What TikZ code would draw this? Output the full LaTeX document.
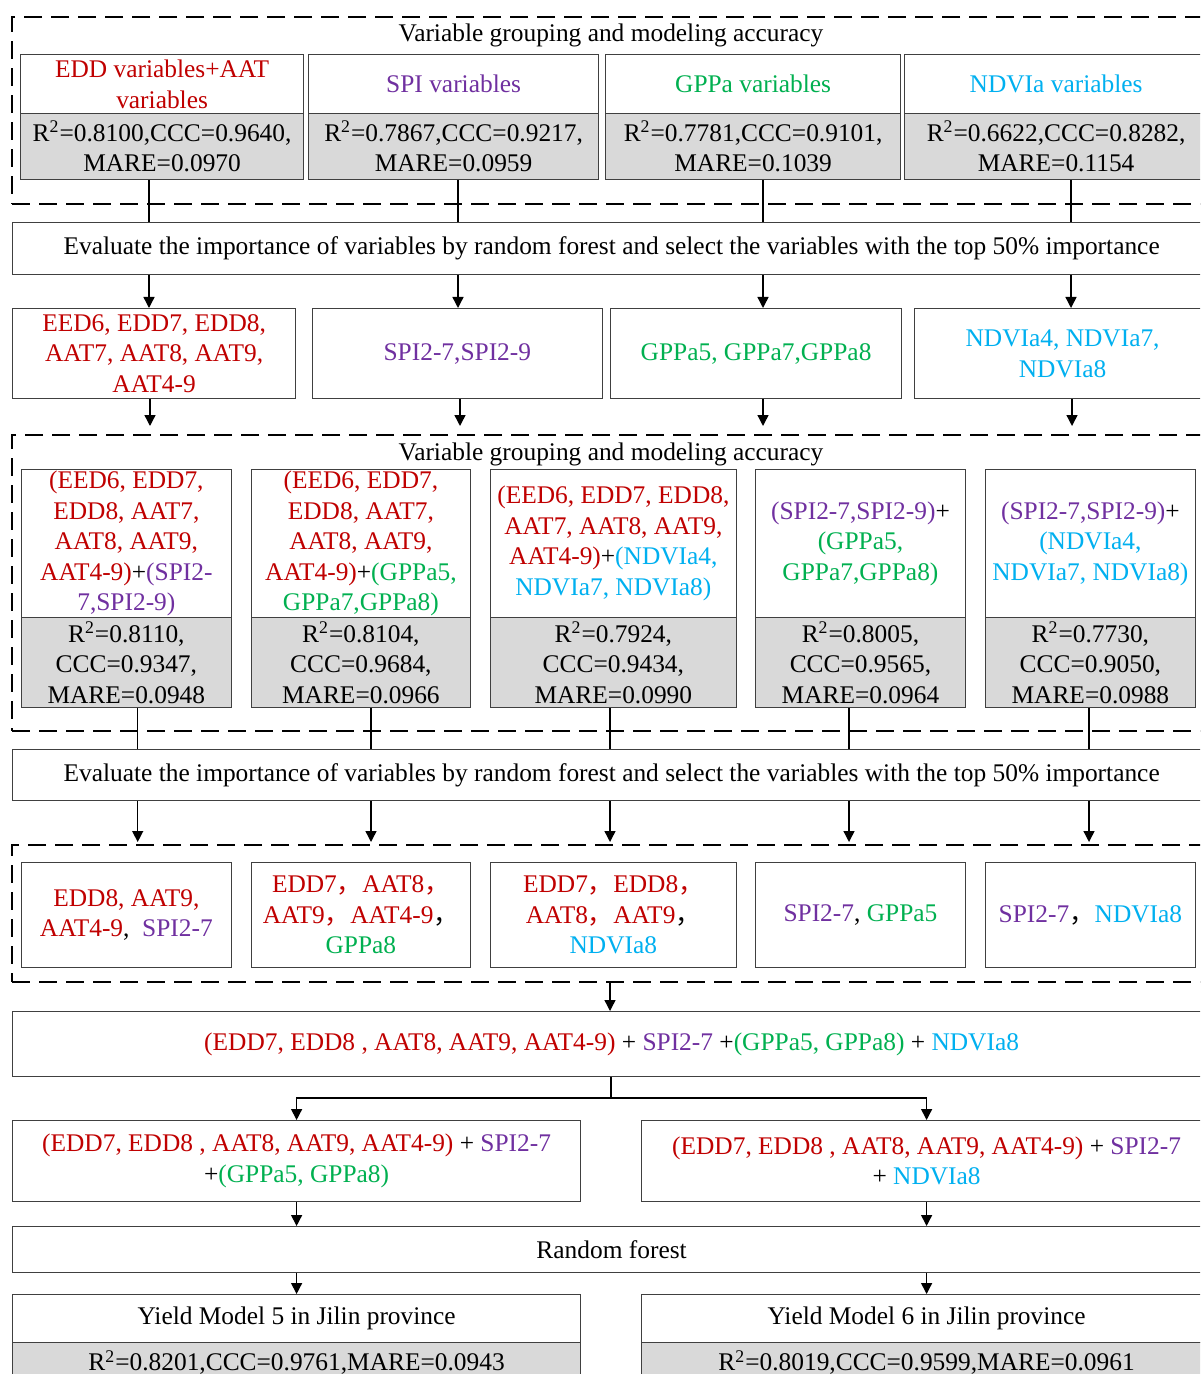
\documentclass[tikz,border=0pt]{standalone}
\usepackage{fontspec}
\setmainfont{Liberation Serif}
\newfontfamily\cjk{Noto Sans CJK SC}
\usetikzlibrary{arrows.meta}
\definecolor{cred}{HTML}{C00000}
\definecolor{cpur}{HTML}{7030A0}
\definecolor{cgrn}{HTML}{00B050}
\definecolor{ccyn}{HTML}{00B0F0}
\definecolor{cgray}{HTML}{D9D9D9}
\definecolor{cedge}{HTML}{404040}
\newcommand{\Red}[1]{\textcolor{cred}{#1}}
\newcommand{\Pur}[1]{\textcolor{cpur}{#1}}
\newcommand{\Grn}[1]{\textcolor{cgrn}{#1}}
\newcommand{\Cyn}[1]{\textcolor{ccyn}{#1}}
\newcommand{\fc}{{\cjk ，}}
\newcommand{\Rsq}{R\textsuperscript{2}}
\begin{document}
\begin{tikzpicture}[x=0.5pt,y=-0.5pt,
  font=\fontsize{12.7}{15.25}\selectfont,
  box/.style={draw=cedge, line width=0.6pt, fill=white, inner sep=0pt, align=center, anchor=north west},
  gbox/.style={box, fill=cgray},
  dbox/.style={draw=black, line width=1.2pt, dash pattern=on 9pt off 4.5pt, inner sep=0pt, anchor=north west},
  sz/.style 2 args={minimum width=#1*0.5pt, minimum height=#2*0.5pt},
  con/.style={line width=0.7pt, draw=black},
  arr/.style={con, -{Triangle[length=5.5pt,width=5.5pt]}},
  ttl/.style={inner sep=0pt}]
\useasboundingbox (0,0) rectangle (1200,1374);
\clip (0,0) rectangle (1200,1374);

% ---------- group 1 ----------
\node[dbox, sz={1204}{187}] (g1) at (11,16) {};
\node[ttl] (t1) at (611,35) {Variable grouping and modeling accuracy};
\node[box, sz={283}{59}] (h1) at (20,54) {\Red{EDD variables+AAT}\\\Red{variables}};
\node[gbox, sz={283}{66}] (s1) at (20,113) {\Rsq=0.8100,CCC=0.9640,\\MARE=0.0970};
\node[box, sz={290}{59}] (h2) at (308,54) {\Pur{SPI variables}};
\node[gbox, sz={290}{66}] (s2) at (308,113) {\Rsq=0.7867,CCC=0.9217,\\MARE=0.0959};
\node[box, sz={295}{59}] (h3) at (605,54) {\Grn{GPPa variables}};
\node[gbox, sz={295}{66}] (s3) at (605,113) {\Rsq=0.7781,CCC=0.9101,\\MARE=0.1039};
\node[box, sz={304}{59}] (h4) at (903.5,54) {\Cyn{NDVIa variables}};
\node[gbox, sz={304}{66}] (s4) at (903.5,113) {\Rsq=0.6622,CCC=0.8282,\\MARE=0.1154};

\node[box, sz={1198}{52}] (ev1) at (12,222) {Evaluate the importance of variables by random forest and select the variables with the top 50\% importance};

\coordinate (a1) at (149,0);
\coordinate (a2) at (458,0);
\coordinate (a3) at (763,0);
\coordinate (a4) at (1071,0);
\foreach \i in {1,...,4}{
  \draw[con] (s\i.south -| a\i) -- (ev1.north -| a\i);
}

% ---------- row 2 ----------
\node[box, sz={283}{90}] (r1) at (12,308) {\Red{EED6, EDD7, EDD8,}\\\Red{AAT7, AAT8, AAT9,}\\\Red{AAT4-9}};
\node[box, sz={290.5}{90}] (r2) at (311.5,308) {\Pur{SPI2-7,SPI2-9}};
\node[box, sz={291}{90}] (r3) at (610,308) {\Grn{GPPa5, GPPa7,GPPa8}};
\node[box, sz={296}{90}] (r4) at (914,308) {\Cyn{NDVIa4, NDVIa7,}\\\Cyn{NDVIa8}};
\foreach \i in {1,...,4}{
  \draw[arr] (ev1.south -| a\i) -- (r\i.north -| a\i);
}
\coordinate (b1) at (150,426);
\coordinate (b2) at (460,426);
\coordinate (b3) at (763,426);
\coordinate (b4) at (1072,426);
\foreach \i in {1,...,4}{
  \draw[arr] (r\i.south -| b\i) -- (b\i);
}

% ---------- group 2 ----------
\node[dbox, sz={1204}{296}] (g2) at (11,434) {};
\node[ttl] (t2) at (611,454) {Variable grouping and modeling accuracy};
\node[box, sz={210.5}{148}] (w1) at (20.5,469) {\Red{(EED6, EDD7,}\\\Red{EDD8, AAT7,}\\\Red{AAT8, AAT9,}\\\Red{AAT4-9)}+\Pur{(SPI2-}\\\Pur{7,SPI2-9)}};
\node[gbox, sz={210.5}{90}] (q1) at (20.5,617) {\Rsq=0.8110,\\CCC=0.9347,\\MARE=0.0948};
\node[box, sz={219.4}{148}] (w2) at (250.6,469) {\Red{(EED6, EDD7,}\\\Red{EDD8, AAT7,}\\\Red{AAT8, AAT9,}\\\Red{AAT4-9)}+\Grn{(GPPa5,}\\\Grn{GPPa7,GPPa8)}};
\node[gbox, sz={219.4}{90}] (q2) at (250.6,617) {\Rsq=0.8104,\\CCC=0.9684,\\MARE=0.0966};
\node[box, sz={245.5}{148}] (w3) at (490,469) {\Red{(EED6, EDD7, EDD8,}\\\Red{AAT7, AAT8, AAT9,}\\\Red{AAT4-9)}+\Cyn{(NDVIa4,}\\\Cyn{NDVIa7, NDVIa8)}};
\node[gbox, sz={245.5}{90}] (q3) at (490,617) {\Rsq=0.7924,\\CCC=0.9434,\\MARE=0.0990};
\node[box, sz={209.7}{148}] (w4) at (755,469) {\Pur{(SPI2-7,SPI2-9)}+\\\Grn{(GPPa5,}\\\Grn{GPPa7,GPPa8)}};
\node[gbox, sz={209.7}{90}] (q4) at (755,617) {\Rsq=0.8005,\\CCC=0.9565,\\MARE=0.0964};
\node[box, sz={210.4}{148}] (w5) at (984.6,469) {\Pur{(SPI2-7,SPI2-9)}+\\\Cyn{(NDVIa4,}\\\Cyn{NDVIa7, NDVIa8)}};
\node[gbox, sz={210.4}{90}] (q5) at (984.6,617) {\Rsq=0.7730,\\CCC=0.9050,\\MARE=0.0988};

\node[box, sz={1198}{51}] (ev2) at (12,749) {Evaluate the importance of variables by random forest and select the variables with the top 50\% importance};

\coordinate (c1) at (137.7,842);
\coordinate (c2) at (371,842);
\coordinate (c3) at (610,842);
\coordinate (c4) at (849,842);
\coordinate (c5) at (1089,842);
\foreach \i in {1,...,5}{
  \draw[con] (q\i.south -| c\i) -- (ev2.north -| c\i);
  \draw[arr] (ev2.south -| c\i) -- (c\i);
}

% ---------- group 3 ----------
\node[dbox, sz={1204}{137}] (g3) at (11,844) {};
\node[box, sz={210.5}{105}] (v1) at (20.5,862) {\Red{EDD8, AAT9,}\\\Red{AAT4-9},\enspace\Pur{SPI2-7}};
\node[box, sz={219.4}{105}] (v2) at (250.6,862) {\Red{EDD7\fc AAT8\fc}\\\Red{AAT9\fc AAT4-9}\fc\\\Grn{GPPa8}};
\node[box, sz={245.5}{105}] (v3) at (490,862) {\Red{EDD7\fc EDD8\fc}\\\Red{AAT8\fc AAT9}\fc\\\Cyn{NDVIa8}};
\node[box, sz={209.7}{105}] (v4) at (755,862) {\Pur{SPI2-7}, \Grn{GPPa5}};
\node[box, sz={210.4}{105}] (v5) at (984.6,862) {\Pur{SPI2-7}\fc\Cyn{NDVIa8}};

% ---------- combination ----------
\node[box, sz={1198}{65}] (cb) at (12,1011) {\Red{(EDD7, EDD8 , AAT8, AAT9, AAT4-9)} + \Pur{SPI2-7} +\Grn{(GPPa5, GPPa8)} + \Cyn{NDVIa8}};
\coordinate (d0) at (610,0);
\draw[arr] (g3.south -| d0) -- (cb.north -| d0);

\node[box, sz={568}{81}] (bl) at (12,1120) {\Red{(EDD7, EDD8 , AAT8, AAT9, AAT4-9)} + \Pur{SPI2-7}\\+\Grn{(GPPa5, GPPa8)}};
\node[box, sz={570}{81}] (br) at (641,1120) {\Red{(EDD7, EDD8 , AAT8, AAT9, AAT4-9)} + \Pur{SPI2-7}\\+ \Cyn{NDVIa8}};
\coordinate (j) at (611,1098);
\draw[con] (cb.south -| j) -- (j);
\draw[arr] (j) -| (bl.north);
\draw[arr] (j) -| (br.north);

\node[box, sz={1198}{46}] (rf) at (12,1226) {Random forest};
\draw[arr] (bl.south) -- (rf.north -| bl.south);
\draw[arr] (br.south) -- (rf.north -| br.south);

\node[box, sz={568}{48}] (m5) at (12,1294) {Yield Model 5 in Jilin province};
\node[gbox, sz={568}{40}] (m5s) at (12,1342) {\Rsq=0.8201,CCC=0.9761,MARE=0.0943};
\node[box, sz={570}{48}] (m6) at (641,1294) {Yield Model 6 in Jilin province};
\node[gbox, sz={570}{40}] (m6s) at (641,1342) {\Rsq=0.8019,CCC=0.9599,MARE=0.0961};
\draw[arr] (rf.south -| m5.north) -- (m5.north);
\draw[arr] (rf.south -| m6.north) -- (m6.north);
\end{tikzpicture}
\end{document}
